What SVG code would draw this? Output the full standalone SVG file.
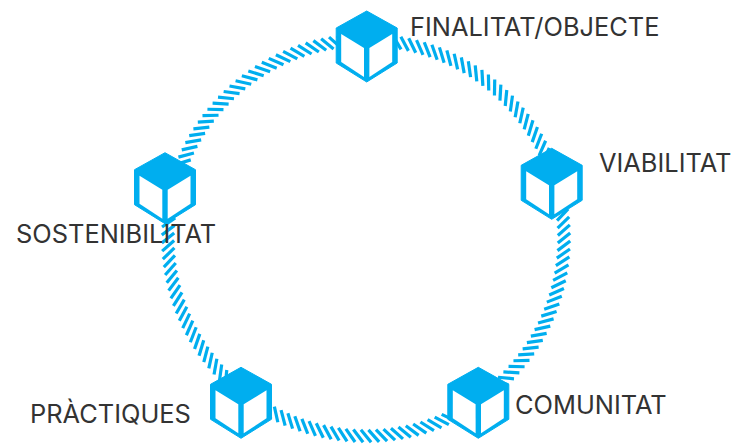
<svg xmlns="http://www.w3.org/2000/svg" width="735" height="446" viewBox="0 0 735 446">
<style>
.h{stroke:#00aeef;stroke-width:3.2;fill:none}
.o{fill:#00aeef;stroke:#00aeef;stroke-width:1;stroke-linejoin:round}
.f{fill:#fff}
text{font-family:Inter,Roboto,"Liberation Sans",sans-serif;font-size:25.4px;fill:#333}
</style>
<defs>
<line id="h0" class="h" x1="360.9" y1="33.8" x2="371.1" y2="46.2"/>
<g id="h1"><use href="#h0"/><use href="#h0" transform="rotate(2.25 366 238)"/><use href="#h0" transform="rotate(4.5 366 238)"/><use href="#h0" transform="rotate(6.75 366 238)"/><use href="#h0" transform="rotate(9 366 238)"/></g>
<g id="h2"><use href="#h1"/><use href="#h1" transform="rotate(11.25 366 238)"/><use href="#h1" transform="rotate(22.5 366 238)"/><use href="#h1" transform="rotate(33.75 366 238)"/></g>
<g id="cube">
<path class="o" d="M0 0L30.5 17V52L0 71L-30.5 52V17Z"/>
<path class="f" d="M-25.5 23L-2.7 37V66L-25.5 51Z"/>
<path class="f" d="M25.5 23L2.7 37V66L25.5 51Z"/>
</g>
</defs>
<g id="connectors">
<use href="#h2"/><use href="#h2" transform="rotate(45 366 238)"/><use href="#h2" transform="rotate(90 366 238)"/><use href="#h2" transform="rotate(135 366 238)"/><use href="#h2" transform="rotate(180 366 238)"/><use href="#h2" transform="rotate(225 366 238)"/><use href="#h2" transform="rotate(270 366 238)"/><use href="#h2" transform="rotate(315 366 238)"/>
</g>
<g id="node-finalitat"><use href="#cube" x="366.7" y="11"/><text x="410" y="36">FINALITAT/OBJECTE</text></g>
<g id="node-viabilitat"><use href="#cube" x="551.7" y="148.3"/><text x="599" y="172">VIABILITAT</text></g>
<g id="node-comunitat"><use href="#cube" x="478.3" y="367.3"/><text x="515" y="414">COMUNITAT</text></g>
<g id="node-practiques"><use href="#cube" x="241" y="367.3"/><text x="30" y="423">PRÀCTIQUES</text></g>
<g id="node-sostenibilitat"><use href="#cube" x="165" y="152.7"/><text x="16" y="243">SOSTENIBILITAT</text></g>
</svg>
